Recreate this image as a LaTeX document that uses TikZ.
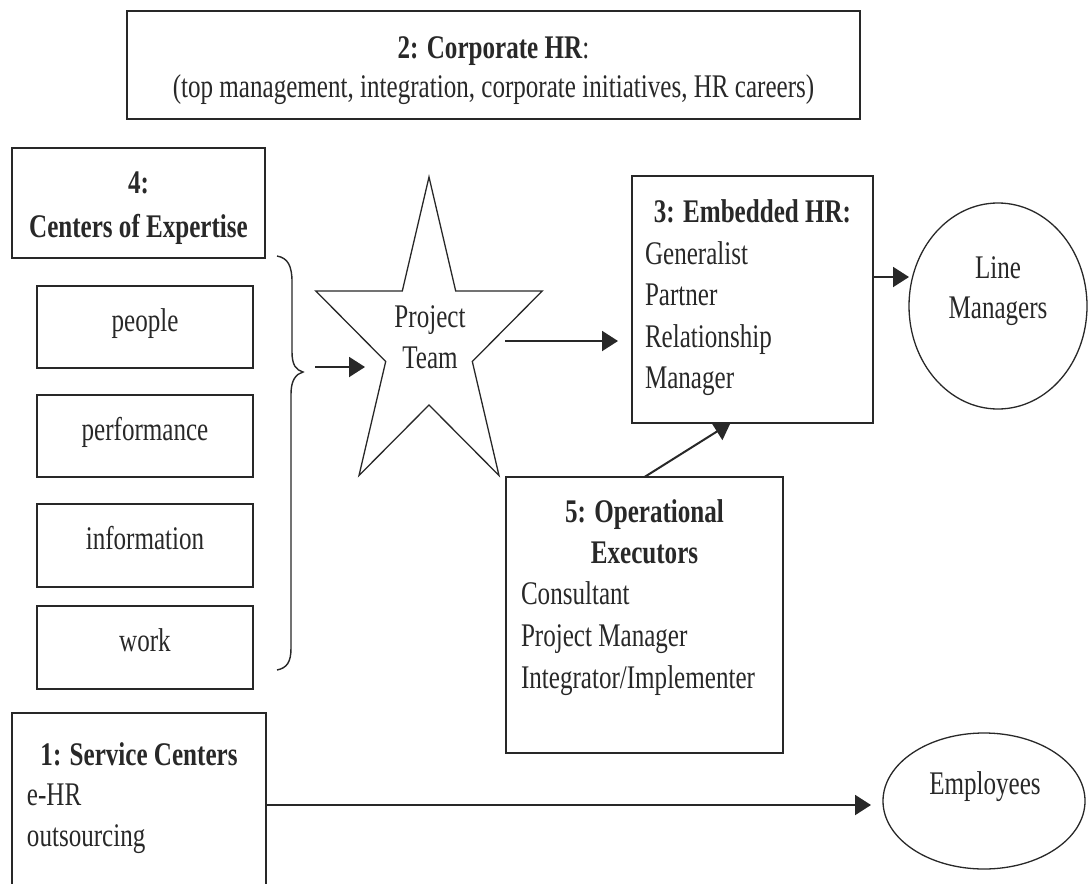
\documentclass[tikz,border=0pt]{standalone}
\usepackage{fontspec}
\setmainfont{Liberation Serif}[FakeStretch=0.76]
\usetikzlibrary{arrows.meta,shapes.geometric}
\definecolor{ink}{RGB}{40,40,40}
\begin{document}
\begin{tikzpicture}[x=1pt,y=-1pt,
  every node/.style={font=\fontsize{33}{41}\selectfont, text=ink, inner sep=0pt, outer sep=0pt},
  boxnode/.style={draw=ink, line width=1.8pt, minimum width=#1, anchor=north west},
  txt/.style={anchor=base},
  txtl/.style={anchor=base west},
  oval/.style={draw=ink, line width=1.3pt, ellipse},
  arr/.style={draw=ink, line width=2pt, -{Triangle[length=16pt,width=20pt]}}
]
\useasboundingbox (0,0) rectangle (1089,883);

% boxes
\node[boxnode=733pt, minimum height=108pt] (corp) at (127,11) {};
\node[boxnode=253pt, minimum height=110pt] (coe) at (12,148) {};
\node[boxnode=216pt, minimum height=82pt] (people) at (37,286) {};
\node[boxnode=216pt, minimum height=82pt] (perf) at (37,395) {};
\node[boxnode=216pt, minimum height=83pt] (info) at (37,504) {};
\node[boxnode=216pt, minimum height=83pt] (work) at (37,606) {};
\node[boxnode=241pt, minimum height=247pt] (hr) at (632,176) {};
\node[boxnode=277pt, minimum height=276pt] (ex) at (506,477) {};
\node[minimum width=254pt, minimum height=180pt, anchor=north west] (sc) at (12,713) {};
\draw[draw=ink, line width=1.8pt] (sc.south west) -- (sc.north west) -- (sc.north east) -- (sc.south east);

% ellipses
\node[oval, minimum width=178pt, minimum height=206pt] (lm) at (998,306) {};
\node[oval, minimum width=202pt, minimum height=136pt] (emp) at (984,801) {};

% star
\coordinate (s1) at (429,177);
\coordinate (s2) at (402.3,291);
\coordinate (s3) at (315.8,291);
\coordinate (s4) at (385.7,361.5);
\coordinate (s5) at (359,475.5);
\coordinate (s6) at (429,405);
\coordinate (s7) at (499,475.5);
\coordinate (s8) at (472.3,361.5);
\coordinate (s9) at (542.2,291);
\coordinate (s10) at (455.7,291);
\draw[draw=ink, line width=1.3pt, line join=miter] (s1) -- (s2) -- (s3) -- (s4) -- (s5) -- (s6) -- (s7) -- (s8) -- (s9) -- (s10) -- cycle;

% brace
\coordinate (bracetip) at (303,372);
\draw[draw=ink, line width=1.4pt] (277,256) .. controls (288,258) and (292,266) .. (292,282) -- (292,352) .. controls (292,365) and (296,370) .. (bracetip) .. controls (296,374) and (291,380) .. (291,394) -- (291,648) .. controls (291,662) and (287,668) .. (277,670);

% texts
\node[txt] (corpA) at (493.5,59) {\textbf{2: Corporate HR}:};
\node[txt] (corpB) at (493.5,97) {(top management, integration, corporate initiatives, HR careers)};
\node[txt] (coeA) at (138.5,193) {\textbf{4:}};
\node[txt] (coeB) at (138.5,237) {\textbf{Centers of Expertise}};
\node[txt] (peopleT) at (145,331) {people};
\node[txt] (perfT) at (145,440) {performance};
\node[txt] (infoT) at (145,549) {information};
\node[txt] (workT) at (145,651) {work};
\node[txt] (ptA) at (430,327) {Project};
\node[txt] (ptB) at (430,368) {Team};
\node[txt] (hrA) at (752.5,222) {\textbf{3: Embedded HR:}};
\node[txtl] (hrB) at (645,264) {Generalist};
\node[txtl] (hrC) at (645,305) {Partner};
\node[txtl] (hrD) at (645,347) {Relationship};
\node[txtl] (hrE) at (645,388) {Manager};
\node[txt] (exA) at (644.5,522) {\textbf{5: Operational}};
\node[txt] (exB) at (644.5,563) {\textbf{Executors}};
\node[txtl] (exC) at (521,604) {Consultant};
\node[txtl] (exD) at (521,646) {Project Manager};
\node[txtl] (exE) at (521,688) {Integrator/Implementer};
\node[txt] (scA) at (139,765) {\textbf{1: Service Centers}};
\node[txtl] (scB) at (27,805) {e-HR};
\node[txtl] (scC) at (27,846) {outsourcing};
\node[txt] (lmA) at (998,278) {Line};
\node[txt] (lmB) at (998,318) {Managers};
\node[txt] (empT) at (985,794) {Employees};

% connectors
\coordinate (bs) at (315,367);
\coordinate (be) at (365,367);
\draw[arr] (bs) -- (be);
\coordinate (sa) at (505,341);
\draw[arr, shorten >=14pt] (sa) -- (sa -| hr.west);
\draw[arr] ([yshift=22.5pt]hr.east) -- ([yshift=22.5pt]hr.east -| lm.west);
\draw[arr] (ex.north) -- ([xshift=-22pt]hr.south);
\draw[arr, shorten >=12pt] ([yshift=-2pt]sc.east) -- ([yshift=-2pt]sc.east -| emp.west);
\end{tikzpicture}
\end{document}
